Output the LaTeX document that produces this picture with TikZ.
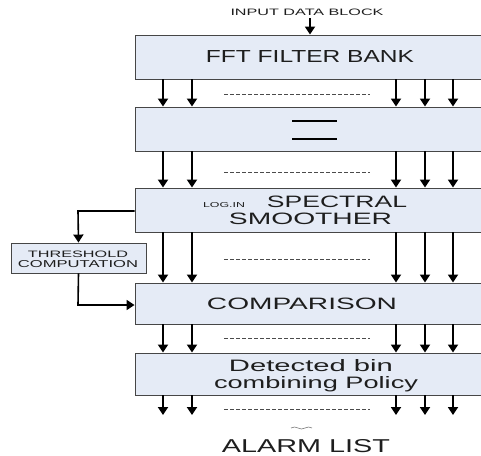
\documentclass[tikz,border=0pt]{standalone}
\usepackage{fontspec}
\usepackage{graphicx}
\setmainfont{Liberation Sans}
\usetikzlibrary{arrows.meta}
\definecolor{boxfill}{RGB}{229,235,246}
\definecolor{boxline}{RGB}{70,70,70}
\definecolor{ink}{RGB}{30,30,30}
% stretched label: width, height, text
\newcommand{\fitlabel}[3]{\resizebox{#1pt}{#2pt}{#3}}
\tikzset{
  stage/.style={draw=boxline, line width=0.9pt, fill=boxfill, inner sep=0pt},
  lbl/.style={anchor=base, inner sep=0pt, text=ink},
  flow/.style={line width=1.8pt, -{Triangle[width=10pt,length=8pt]}},
  feed/.style={line width=1.6pt, -{Triangle[width=10pt,length=8pt]}},
  dots/.style={line width=0.8pt, ink!80, dash pattern=on 4pt off 2pt},
  bar/.style={line width=1.5pt}
}
\begin{document}
\begin{tikzpicture}[x=1pt, y=-1pt]
\useasboundingbox (0,0) rectangle (481,455);
\clip (0,0) rectangle (481,455);

% processing stages
\node[stage, minimum width=355pt, minimum height=44pt] (fft)  at (312.5,57)  {};
\node[stage, minimum width=355pt, minimum height=44pt] (mid)  at (312.5,129) {};
\node[stage, minimum width=355pt, minimum height=44pt] (smo)  at (312.5,210) {};
\node[stage, minimum width=355pt, minimum height=41pt] (cmp)  at (312.5,303.5) {};
\node[stage, minimum width=355pt, minimum height=42pt] (det)  at (312.5,374) {};
\node[stage, minimum width=135pt, minimum height=30pt] (thr)  at (78.5,258) {};

% labels
\node[lbl] (inlbl) at (307,15.5) {\fitlabel{153}{6.5}{INPUT DATA BLOCK}};
\node[lbl] at (310,62.7) {\fitlabel{208}{12}{FFT FILTER BANK}};
\node[lbl] at (224,207) {\fitlabel{42}{5}{LOG.IN}};
\node[lbl] at (337,207) {\fitlabel{140}{11.5}{SPECTRAL}};
\node[lbl] at (310.5,224) {\fitlabel{163}{11.5}{SMOOTHER}};
\node[lbl] at (302,309) {\fitlabel{190}{11.5}{COMPARISON}};
\node[lbl] at (311,371.5) {\fitlabel{164}{12}{Detected bin}};
\node[lbl] at (316,388) {\fitlabel{204}{12}{combining Policy}};
\node[lbl] (alarm) at (306,452) {\fitlabel{168}{13}{ALARM LIST}};
\node[lbl] at (78,257) {\fitlabel{100}{6.5}{THRESHOLD}};
\node[lbl] at (78,267) {\fitlabel{120}{7}{COMPUTATION}};

% equality bars in the second stage
\draw[bar] (292,121) -- (337,121);
\draw[bar] (292,139) -- (337,139);

% input arrow
\coordinate (cin) at (310,18);
\draw[flow] (cin) -- (cin |- fft.north);

% parallel bin channels
\foreach \cx in {163,192,396,425,453} {
  \coordinate (col) at (\cx,0);
  \draw[flow] (col |- fft.south) -- (col |- mid.north);
  \draw[flow] (col |- mid.south) -- (col |- smo.north);
  \draw[flow] (col |- smo.south) -- (col |- cmp.north);
  \draw[flow] (col |- cmp.south) -- (col |- det.north);
  \coordinate (tail\cx) at (\cx,415);
  \draw[flow] (col |- det.south) -- (tail\cx);
}

% dotted continuation between channel groups
\foreach \dy in {94,172,259,338,409} {
  \draw[dots] (224,\dy) -- (370,\dy);
}

% threshold side path
\coordinate (tap) at (78,211);
\coordinate (ret) at (78,305);
\draw[feed] (smo.west |- tap) -- (tap) -- (thr.north);
\draw[feed] (thr.south) -- (ret) -- (cmp.west |- ret);

% small wave above the alarm list
\draw[ink!60, line width=0.6pt] (291,428) sin (294.5,427) cos (298,428) sin (301.5,429) cos (305,428) sin (308.5,427) cos (312,428);
\end{tikzpicture}
\end{document}
